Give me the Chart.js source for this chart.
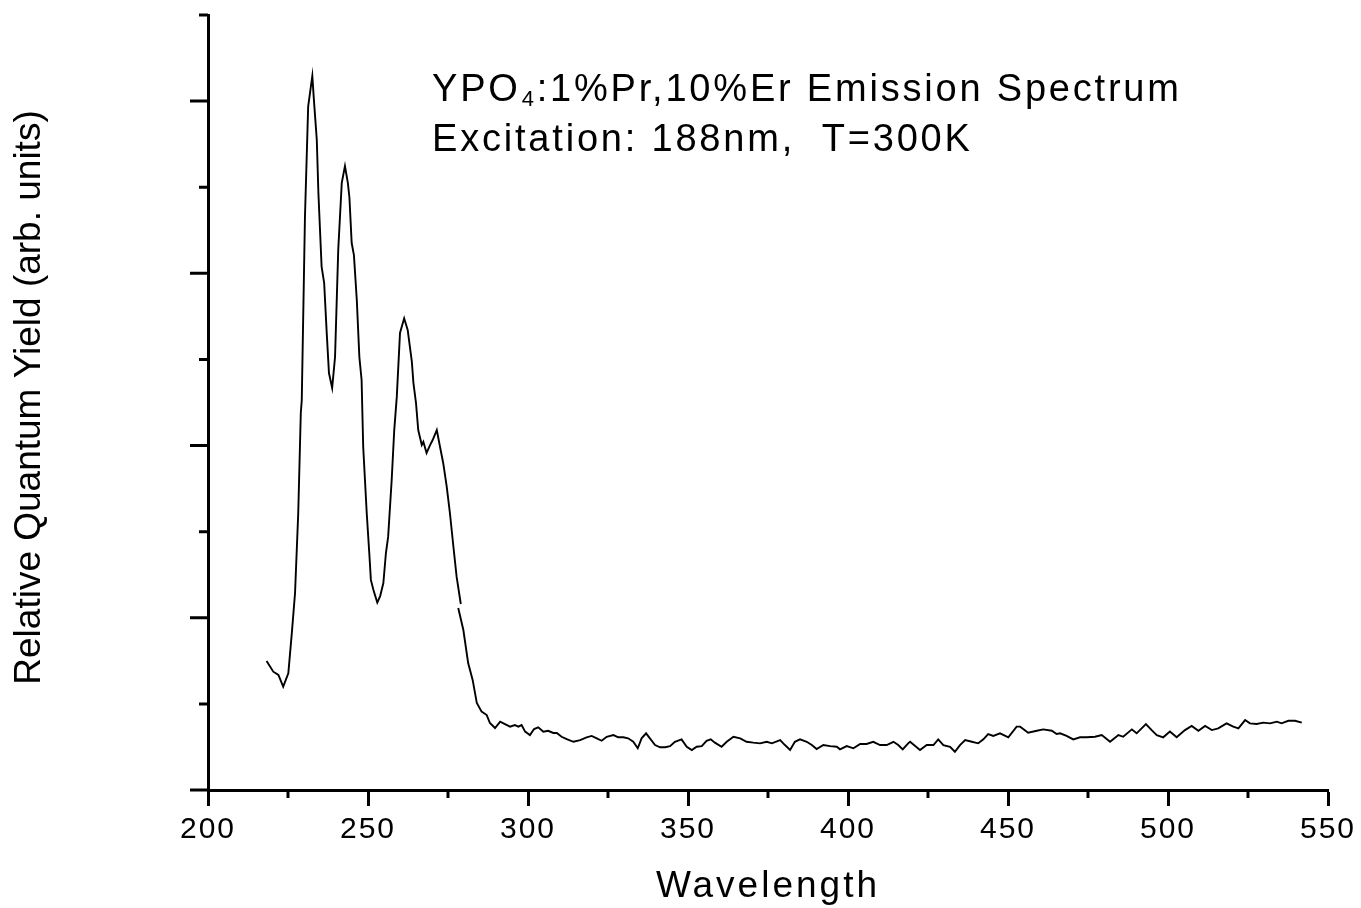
<!DOCTYPE html>
<html>
<head>
<meta charset="utf-8">
<script src="https://cdn.jsdelivr.net/npm/chart.js@4/dist/chart.umd.min.js"></script>
<style>
  html, body { margin: 0; padding: 0; background: #fff; }
  canvas { display: block; }
</style>
</head>
<body>
<canvas id="myChart" width="1361" height="908"></canvas>
<script>
// spectrum (nm, arb. units); null = break in the trace
const wavelength = [
  218.3, 220.4, 222.0, 223.5, 225.1, 226.2, 227.2, 228.2, 229.0, 229.3,
  230.3, 231.3, 232.6, 233.1, 234.0, 234.5, 235.5, 236.3, 237.1, 237.8,
  238.8, 239.7, 240.7, 241.8, 242.8, 243.7, 244.2, 244.9, 245.6, 246.5,
  247.3, 248.0, 248.5, 249.6, 250.4, 250.9, 251.7, 252.9, 253.8, 254.8,
  255.6, 256.3, 257.4, 258.2, 259.0, 260.0, 261.3, 262.4, 263.7, 264.2,
  265.0, 265.7, 266.8, 267.3, 268.3, 269.4, 270.2, 271.5, 272.5, 273.5,
  274.6, 275.6, 276.7, 277.7, 279.0,
  278.6,
  278.2, 279.8, 281.3, 282.7, 284.0, 285.5, 287.1, 288.1, 289.7, 291.3,
  292.8, 294.4, 295.9, 297.0, 298.0, 299.1, 300.6, 301.9, 303.2, 304.8,
  306.3, 307.9, 309.0, 310.5, 312.1, 314.2, 316.3, 318.3, 319.9, 321.5,
  323.0, 324.6, 326.7, 328.2, 329.8, 331.3, 332.9, 334.3, 335.5, 336.9,
  338.1, 339.7, 341.3, 342.8, 344.4, 345.9, 348.0, 349.6, 351.2, 352.7,
  354.3, 355.8, 357.1, 358.4, 360.5, 362.1, 364.2, 366.3, 368.3, 370.4,
  372.5, 374.6, 376.2, 378.8, 380.3, 381.9, 383.4, 385.0, 387.1, 388.7,
  390.2, 392.3, 394.4, 396.5, 397.5, 399.6, 401.7, 403.8, 405.8, 407.9,
  410.0, 412.1, 414.2, 415.7, 417.1, 418.8, 419.4, 422.5, 424.6, 426.7,
  428.2, 429.8, 431.9, 433.4, 435.0, 436.6, 438.7, 440.7, 442.3, 443.8,
  445.4, 447.5, 450.1, 452.7, 453.8, 456.3, 459.0, 461.0, 463.7, 465.2,
  466.3, 468.3, 470.4, 472.5, 474.6, 477.2, 479.3, 481.9, 484.5, 486.0,
  488.7, 490.2, 493.1, 494.9, 496.5, 498.5, 500.6, 502.7, 505.3, 507.4,
  509.5, 511.6, 513.7, 515.7, 518.3, 520.4, 522.0, 524.1, 525.6, 527.7,
  529.8, 531.9, 534.0, 535.5, 537.6, 539.7, 541.8
];
const intensity = [
  0.749, 0.687, 0.668, 0.600, 0.678, 0.912, 1.144, 1.608, 2.189, 2.264,
  3.329, 3.968, 4.146, 4.006, 3.774, 3.466, 3.039, 2.944, 2.654, 2.421,
  2.334, 2.514, 3.136, 3.525, 3.623, 3.525, 3.439, 3.176, 3.106, 2.845,
  2.514, 2.381, 1.993, 1.608, 1.376, 1.220, 1.161, 1.088, 1.126, 1.202,
  1.376, 1.471, 1.800, 2.090, 2.284, 2.654, 2.739, 2.671, 2.487, 2.363,
  2.247, 2.090, 2.003, 2.022, 1.957, 2.003, 2.032, 2.090, 1.993, 1.899,
  1.761, 1.608, 1.411, 1.237, 1.080,
  null,
  1.057, 0.929, 0.737, 0.639, 0.505, 0.455, 0.435, 0.389, 0.360, 0.397,
  0.383, 0.368, 0.377, 0.368, 0.377, 0.339, 0.319, 0.354, 0.364, 0.339,
  0.344, 0.331, 0.331, 0.309, 0.296, 0.280, 0.290, 0.306, 0.314, 0.300,
  0.286, 0.309, 0.319, 0.306, 0.306, 0.300, 0.280, 0.242, 0.300, 0.329,
  0.300, 0.261, 0.248, 0.248, 0.255, 0.280, 0.294, 0.251, 0.232, 0.251,
  0.255, 0.286, 0.294, 0.275, 0.251, 0.280, 0.309, 0.300, 0.280, 0.275,
  0.271, 0.280, 0.271, 0.290, 0.261, 0.232, 0.280, 0.294, 0.280, 0.261,
  0.238, 0.261, 0.255, 0.251, 0.236, 0.255, 0.242, 0.267, 0.267, 0.280,
  0.261, 0.261, 0.280, 0.261, 0.236, 0.271, 0.280, 0.232, 0.261, 0.261,
  0.294, 0.261, 0.251, 0.222, 0.261, 0.290, 0.280, 0.271, 0.294, 0.325,
  0.314, 0.329, 0.306, 0.368, 0.368, 0.333, 0.344, 0.352, 0.344, 0.325,
  0.329, 0.314, 0.294, 0.306, 0.306, 0.309, 0.319, 0.280, 0.319, 0.309,
  0.352, 0.329, 0.383, 0.348, 0.319, 0.306, 0.339, 0.306, 0.348, 0.372,
  0.344, 0.372, 0.348, 0.358, 0.387, 0.368, 0.358, 0.406, 0.387, 0.383,
  0.391, 0.387, 0.397, 0.387, 0.402, 0.402, 0.391
];

const xMinorTicks = [225, 275, 325, 375, 425, 475, 525];
const yMajorTicks = [0, 1, 2, 3, 4];
const yMinorTicks = [0.5, 1.5, 2.5, 3.5, 4.5];

const titleLines = ["YPO", "4", ":1%Pr,10%Er Emission Spectrum", "Excitation: 188nm,  T=300K"];
const xTitle = "Wavelength";
const yTitle = "Relative Quantum Yield (arb. units)";

const FONT = '"Liberation Sans", Arial, Helvetica, sans-serif';

const points = wavelength.map((w, i) => ({ x: w, y: intensity[i] }));

const decor = {
  id: "decor",
  beforeDraw(chart) {
    chart.ctx.letterSpacing = "2px";
  },
  afterDraw(chart) {
    const ctx = chart.ctx;
    const xs = chart.scales.x;
    const ys = chart.scales.y;
    const left = chart.chartArea.left;
    const bottom = chart.chartArea.bottom;

    ctx.save();
    ctx.strokeStyle = "#000";
    ctx.lineWidth = 3;
    ctx.lineCap = "butt";
    ctx.beginPath();
    xMinorTicks.forEach((v) => {
      const px = xs.getPixelForValue(v);
      ctx.moveTo(px, bottom);
      ctx.lineTo(px, bottom + 8);
    });
    yMajorTicks.forEach((v) => {
      const py = ys.getPixelForValue(v);
      ctx.moveTo(left, py);
      ctx.lineTo(left - 18, py);
    });
    yMinorTicks.forEach((v) => {
      const py = ys.getPixelForValue(v);
      ctx.moveTo(left, py);
      ctx.lineTo(left - 9, py);
    });
    ctx.stroke();

    ctx.fillStyle = "#000";
    ctx.textAlign = "left";
    ctx.textBaseline = "alphabetic";

    // annotation in the upper part of the plot
    ctx.letterSpacing = "2.8px";
    ctx.font = "38px " + FONT;
    let x = 432;
    ctx.fillText(titleLines[0], x, 101);
    x += ctx.measureText(titleLines[0]).width + 1;
    ctx.font = "22px " + FONT;
    ctx.fillText(titleLines[1], x, 106);
    x += ctx.measureText(titleLines[1]).width;
    ctx.font = "38px " + FONT;
    ctx.fillText(titleLines[2], x, 101);
    ctx.fillText(titleLines[3], 432, 151);

    // axis titles
    ctx.textAlign = "center";
    ctx.letterSpacing = "3px";
    ctx.font = "37px " + FONT;
    ctx.fillText(xTitle, (xs.left + xs.right) / 2, 897);

    ctx.letterSpacing = "0px";
    ctx.font = "37px " + FONT;
    ctx.translate(40, (ys.top + ys.bottom) / 2 - 5);
    ctx.rotate(-Math.PI / 2);
    ctx.fillText(yTitle, 0, 0);
    ctx.restore();
  }
};

new Chart(document.getElementById("myChart"), {
  type: "line",
  data: {
    datasets: [{
      data: points,
      borderColor: "#000",
      borderWidth: 1.9,
      pointRadius: 0,
      tension: 0,
      fill: false,
      spanGaps: false
    }]
  },
  options: {
    responsive: false,
    animation: false,
    layout: { padding: { left: 0, right: 33, top: 15, bottom: 0 } },
    plugins: { legend: { display: false }, tooltip: { enabled: false } },
    scales: {
      x: {
        type: "linear",
        min: 200,
        max: 550,
        ticks: {
          stepSize: 50,
          autoSkip: false,
          maxRotation: 0,
          color: "#000",
          padding: 6,
          font: { size: 30, family: FONT },
          callback: (v) => String(v)
        },
        grid: {
          display: true,
          drawOnChartArea: false,
          drawTicks: true,
          tickLength: 16,
          tickWidth: 3,
          tickColor: "#000"
        },
        border: { display: true, color: "#000", width: 3 },
        afterFit(scale) { scale.height = 118; }
      },
      y: {
        min: 0,
        max: 4.5,
        ticks: { display: false },
        grid: { display: false },
        border: { display: true, color: "#000", width: 3 },
        afterFit(scale) { scale.width = 208; }
      }
    }
  },
  plugins: [decor]
});
</script>
</body>
</html>
